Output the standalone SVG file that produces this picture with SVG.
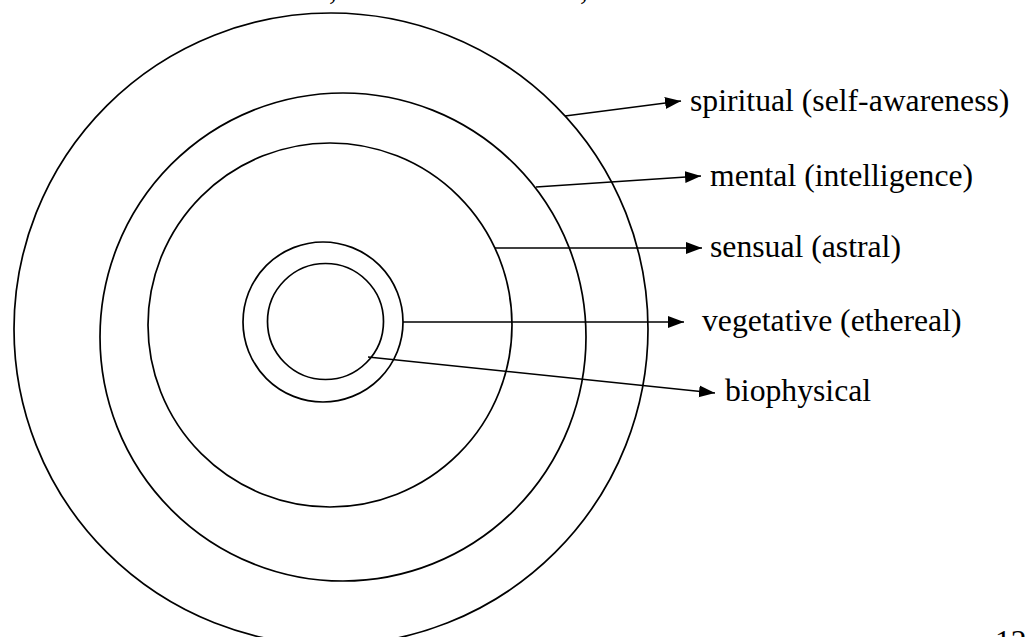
<svg xmlns="http://www.w3.org/2000/svg" width="1026" height="637" viewBox="0 0 1026 637">
<style>
.ring{fill:none;stroke:#000;stroke-width:1.7}
.conn{fill:none;stroke:#000;stroke-width:1.6;marker-end:url(#arr)}
.lbl{font-family:"Liberation Serif","Times New Roman",serif;font-size:31.7px;fill:#000}
</style>
<defs>
<marker id="arr" markerUnits="userSpaceOnUse" markerWidth="17" markerHeight="13" refX="16" refY="6" orient="auto">
<path d="M0,0 L16,6 L0,12 z" fill="#000"/>
</marker>
</defs>
<rect width="1026" height="637" fill="#fff"/>
<g id="cut-text">
<text class="lbl" x="329" y="-1">,</text>
<text class="lbl" x="580" y="-1">,</text>
<text class="lbl" x="995" y="652">12</text>
</g>
<g id="ring-spiritual"><ellipse class="ring" cx="331" cy="329" rx="317" ry="316"/></g>
<g id="ring-mental"><ellipse class="ring" cx="343" cy="337" rx="243" ry="244"/></g>
<g id="ring-sensual"><circle class="ring" cx="330" cy="325" r="182"/></g>
<g id="ring-vegetative"><circle class="ring" cx="323" cy="322" r="80"/></g>
<g id="ring-biophysical"><circle class="ring" cx="325.5" cy="321.5" r="58"/></g>
<g id="connectors">
<line class="conn" x1="565" y1="116" x2="681" y2="101"/>
<line class="conn" x1="536" y1="187" x2="701" y2="176"/>
<line class="conn" x1="495" y1="248" x2="702" y2="248"/>
<line class="conn" x1="403" y1="322" x2="684" y2="322"/>
<line class="conn" x1="368" y1="357" x2="715" y2="393"/>
</g>
<g id="label-spiritual"><text class="lbl" x="690" y="111">spiritual (self-awareness)</text></g>
<g id="label-mental"><text class="lbl" x="710" y="186">mental (intelligence)</text></g>
<g id="label-sensual"><text class="lbl" x="710" y="257">sensual (astral)</text></g>
<g id="label-vegetative"><text class="lbl" x="702" y="331">vegetative (ethereal)</text></g>
<g id="label-biophysical"><text class="lbl" x="725" y="401">biophysical</text></g>
</svg>
